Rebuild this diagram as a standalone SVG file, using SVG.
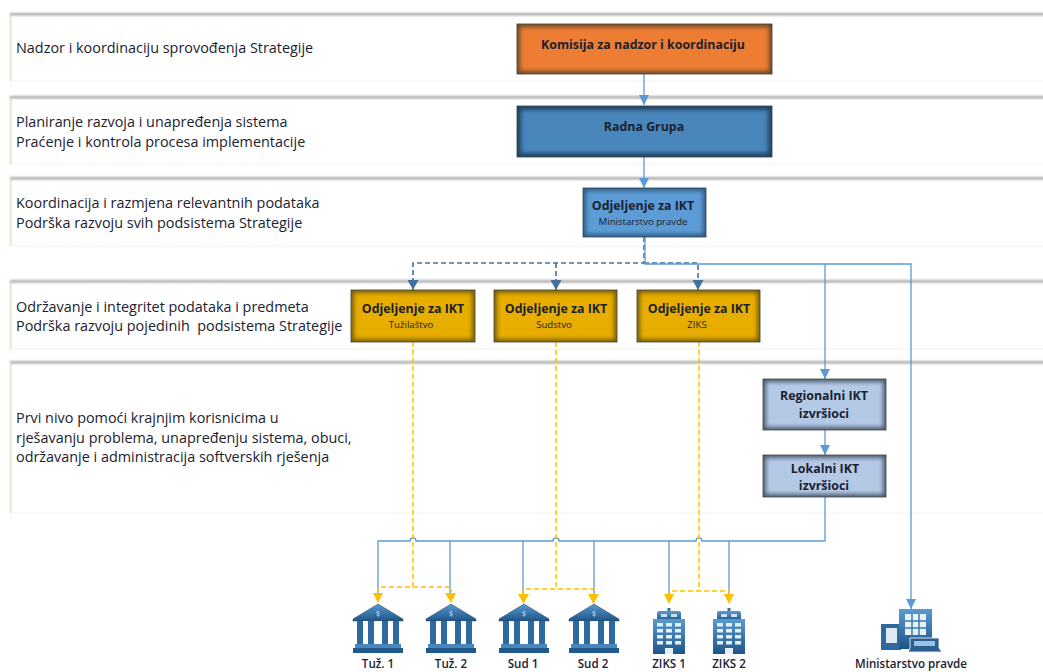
<svg xmlns="http://www.w3.org/2000/svg" width="1043" height="672" viewBox="0 0 1043 672">
<style>
text{font-family:"Open Sans","Noto Sans","Liberation Sans",sans-serif;fill:#1a2230;white-space:pre}
.l{font-size:14.4px}
.b{font-size:12.4px;font-weight:700;text-anchor:middle}
.s{font-size:9.6px;text-anchor:middle}
.i{font-size:11.6px;font-weight:600;text-anchor:middle}
.c{fill:none;stroke:#5b9bd5;stroke-width:1.3}
.d{fill:none;stroke:#41719c;stroke-width:1.6;stroke-dasharray:5 3}
.y{fill:none;stroke:#ffc000;stroke-width:1.5;stroke-dasharray:5 3}
.bandf{fill:#fff;stroke:#f0f4ea;stroke-width:1}
.bt{fill:#a9aaa8}
.bl{fill:#dbe7c8}
.edge{stroke:#3d3d3d;stroke-width:.8}
</style>
<defs>
<filter id="blur" x="-10%" y="-10%" width="120%" height="120%"><feGaussianBlur stdDeviation="2"/></filter>
<filter id="soft" x="-5%" y="-100%" width="110%" height="300%"><feGaussianBlur stdDeviation="0.8"/></filter>
<linearGradient id="ig" x1="0" y1="0" x2="0" y2="1"><stop offset="0" stop-color="#5a9ad0"/><stop offset="1" stop-color="#1f5587"/></linearGradient>
<marker id="ab" markerWidth="11" markerHeight="10" refX="10" refY="5" orient="auto" markerUnits="userSpaceOnUse"><path d="M0 0L10 5L0 10Z" fill="#5b9bd5"/></marker>
<marker id="ad" markerWidth="11" markerHeight="11" refX="10" refY="5.5" orient="auto" markerUnits="userSpaceOnUse"><path d="M0 0L10 5.5L0 11Z" fill="#41719c"/></marker>
<symbol id="bank" viewBox="0 0 52 50" overflow="visible">
<path d="M26 0L51 15V17H1V15Z" fill="url(#ig)" stroke="#1f4464" stroke-width=".5"/>
<rect x="6" y="17" width="40" height="23" fill="#fff"/>
<rect x="5" y="17" width="6" height="24" fill="#2f6a9e"/><rect x="16" y="17" width="6" height="24" fill="#2f6a9e"/><rect x="30" y="17" width="6" height="24" fill="#2f6a9e"/><rect x="41" y="17" width="6" height="24" fill="#2f6a9e"/>
<rect x="3" y="40" width="46" height="4" fill="#4a86bb"/><rect x="1" y="44" width="50" height="5" fill="#22598c"/>
<text x="26" y="12" font-size="7" text-anchor="middle" style="fill:#cfe2f3">$</text>
</symbol>
<symbol id="tower" viewBox="0 0 34 46" overflow="visible">
<rect x="15.500" y="0" width="3" height="4" fill="#3d6f9c"/>
<rect x="5" y="3" width="24" height="10" rx="2" fill="url(#ig)"/>
<rect x="1" y="11" width="32" height="35" fill="url(#ig)"/>
<rect x="9" y="6" width="6" height="3" fill="#cfe0f0"/><rect x="19" y="6" width="6" height="3" fill="#cfe0f0"/>
<g fill="#e6f0f9"><rect x="5" y="15" width="6" height="3.500"/><rect x="14" y="15" width="6" height="3.500"/><rect x="23" y="15" width="6" height="3.500"/><rect x="5" y="21" width="6" height="3.500"/><rect x="14" y="21" width="6" height="3.500"/><rect x="23" y="21" width="6" height="3.500"/><rect x="5" y="27" width="6" height="3.500"/><rect x="14" y="27" width="6" height="3.500"/><rect x="23" y="27" width="6" height="3.500"/><rect x="5" y="33" width="6" height="3.500"/><rect x="14" y="33" width="6" height="3.500"/><rect x="23" y="33" width="6" height="3.500"/><rect x="13" y="40" width="8" height="6"/></g>
</symbol>
</defs>
<rect width="1043" height="672" fill="#fff"/>
<g id="bands">
<g id="band1"><rect class="bandf" x="10" y="14" width="1040" height="67"/><rect class="bl" x="10" y="15" width="1.500" height="66"/><rect class="bt" x="10" y="13" width="1040" height="2.500" filter="url(#soft)"/><text class="l" x="16" y="53">Nadzor i koordinaciju sprovođenja Strategije</text></g>
<g id="band2"><rect class="bandf" x="10" y="97" width="1040" height="67"/><rect class="bl" x="10" y="98" width="1.500" height="66"/><rect class="bt" x="10" y="96" width="1040" height="2.500" filter="url(#soft)"/><text class="l" x="16" y="127">Planiranje razvoja i unapređenja sistema</text><text class="l" x="16" y="147">Praćenje i kontrola procesa implementacije</text></g>
<g id="band3"><rect class="bandf" x="10" y="179" width="1040" height="67"/><rect class="bl" x="10" y="180" width="1.500" height="66"/><rect class="bt" x="10" y="177" width="1040" height="2.500" filter="url(#soft)"/><text class="l" x="16" y="208">Koordinacija i razmjena relevantnih podataka</text><text class="l" x="16" y="228">Podrška razvoju svih podsistema Strategije</text></g>
<g id="band4"><rect class="bandf" x="10" y="282" width="1040" height="67"/><rect class="bl" x="10" y="283" width="1.500" height="66"/><rect class="bt" x="10" y="280" width="1040" height="2.500" filter="url(#soft)"/><text class="l" x="16" y="312">Održavanje i integritet podataka i predmeta</text><text class="l" x="16" y="331">Podrška razvoju pojedinih  podsistema Strategije</text></g>
<g id="band5"><rect class="bandf" x="10" y="363" width="1040" height="150"/><rect class="bl" x="10" y="364" width="1.500" height="149"/><rect class="bt" x="10" y="361" width="1040" height="2.500" filter="url(#soft)"/><text class="l" x="16" y="423">Prvi nivo pomoći krajnjim korisnicima u</text><text class="l" x="16" y="443">rješavanju problema, unapređenju sistema, obuci,</text><text class="l" x="16" y="462">održavanje i administracija softverskih rješenja</text></g>
</g>
<g id="connectors">
<path class="c" d="M644 74V105" marker-end="url(#ab)"/>
<path class="c" d="M644 157V188" marker-end="url(#ab)"/>
<path class="d" d="M644 237V263H413V290" marker-end="url(#ad)"/>
<path class="d" d="M556 263V290" marker-end="url(#ad)"/>
<path class="d" d="M644 263H698V290" marker-end="url(#ad)"/>
<path class="c" d="M645 237V264H911V609" marker-end="url(#ab)"/>
<path class="c" d="M825 264V379" marker-end="url(#ab)"/>
<path class="c" d="M825 430V455" marker-end="url(#ab)"/>
<path class="c" d="M825 497V541H702a3 3 0 0 0-6 0H559a3 3 0 0 0-6 0H416a3 3 0 0 0-6 0H378V597"/>
<path class="c" d="M450 541V597M523 541V597M594 541V597M669 541V597M729 541V597"/>
<path class="y" d="M413 342V587"/>
<path class="y" d="M556 342V589"/>
<path class="y" d="M699 342V591"/>
<path class="y" d="M378 592V587H451V592"/>
<path class="y" d="M523 594V589H594V594"/>
<path class="y" d="M669 596V591H729V596"/>
<path fill="#ffc000" d="M373 593H383L378 603ZM445 593H456L451 603ZM518 594H529L523.500 604ZM588 594H599L593.500 604ZM664 594H674L669 604ZM724 594H734L729 604Z"/>
</g>
<g id="n-komisija"><rect class="edge" x="517" y="24" width="255" height="50" fill="#6b4a28"/><rect x="520" y="27" width="249" height="44" fill="#ed7d31" filter="url(#blur)"/><text class="b" x="643" y="49">Komisija za nadzor i koordinaciju</text></g>
<g id="n-radna"><rect class="edge" x="517" y="106" width="255" height="51" fill="#1f4464"/><rect x="521" y="110" width="247" height="43" fill="#4a86bc" filter="url(#blur)"/><text class="b" x="644" y="131">Radna Grupa</text></g>
<g id="n-mp"><rect class="edge" x="583" y="188" width="123" height="49" fill="#2d5c88"/><rect x="586" y="191" width="117" height="43" fill="#5b9bd5" filter="url(#blur)"/><text class="b" x="643" y="210">Odjeljenje za IKT</text><text class="s" x="643" y="225">Ministarstvo pravde</text></g>
<g id="n-tuz"><rect class="edge" x="351" y="290" width="124" height="52" fill="#7a5f0c"/><rect x="354" y="293" width="118" height="46" fill="#e7ae00" filter="url(#blur)"/><text class="b" x="413" y="313">Odjeljenje za IKT</text><text class="s" x="411" y="328">Tužilaštvo</text></g>
<g id="n-sud"><rect class="edge" x="494" y="290" width="123" height="52" fill="#7a5f0c"/><rect x="497" y="293" width="117" height="46" fill="#e7ae00" filter="url(#blur)"/><text class="b" x="556" y="313">Odjeljenje za IKT</text><text class="s" x="554" y="328">Sudstvo</text></g>
<g id="n-ziks"><rect class="edge" x="637" y="290" width="123" height="52" fill="#7a5f0c"/><rect x="640" y="293" width="117" height="46" fill="#e7ae00" filter="url(#blur)"/><text class="b" x="699" y="313">Odjeljenje za IKT</text><text class="s" x="697" y="328">ZIKS</text></g>
<g id="n-reg"><rect class="edge" x="763" y="379" width="123" height="51" fill="#4d5d70"/><rect x="766" y="382" width="117" height="45" fill="#b4c9e6" filter="url(#blur)"/><text class="b" x="824" y="400">Regionalni IKT</text><text class="b" x="824" y="418">izvršioci</text></g>
<g id="n-lok"><rect class="edge" x="763" y="455" width="123" height="42" fill="#4d5d70"/><rect x="766" y="458" width="117" height="36" fill="#b4c9e6" filter="url(#blur)"/><text class="b" x="825" y="473">Lokalni IKT</text><text class="b" x="824" y="490">izvršioci</text></g>
<g id="n-tuz1"><use href="#bank" x="352" y="604" width="52" height="50"/><text class="i" x="378" y="668">Tuž. 1</text></g>
<g id="n-tuz2"><use href="#bank" x="425" y="604" width="52" height="50"/><text class="i" x="451" y="668">Tuž. 2</text></g>
<g id="n-sud1"><use href="#bank" x="498" y="604" width="52" height="50"/><text class="i" x="523" y="668">Sud 1</text></g>
<g id="n-sud2"><use href="#bank" x="568" y="604" width="52" height="50"/><text class="i" x="593" y="668">Sud 2</text></g>
<g id="n-ziks1"><use href="#tower" x="652" y="608" width="34" height="46"/><text class="i" x="669" y="668">ZIKS 1</text></g>
<g id="n-ziks2"><use href="#tower" x="712" y="608" width="34" height="46"/><text class="i" x="729" y="668">ZIKS 2</text></g>
<g id="n-min">
<rect x="881" y="624" width="20" height="26" fill="#2f6a9e"/><rect x="886" y="628" width="11" height="15" fill="#dfeaf5"/>
<rect x="899" y="609" width="33" height="40" fill="url(#ig)"/><rect x="905" y="614" width="21" height="21" fill="#e6f0f9"/>
<path d="M912 614V635M919 614V635M905 621H926M905 628H926" stroke="#3a78ae" stroke-width="1.500"/>
<path d="M910 638H939V648L942 652H908L910 648Z" fill="#2b5f90" stroke="#fff" stroke-width=".8"/><rect x="914" y="641" width="21" height="5" fill="#9cc1e3"/>
<text class="i" x="911" y="668">Ministarstvo pravde</text>
</g>
</svg>
